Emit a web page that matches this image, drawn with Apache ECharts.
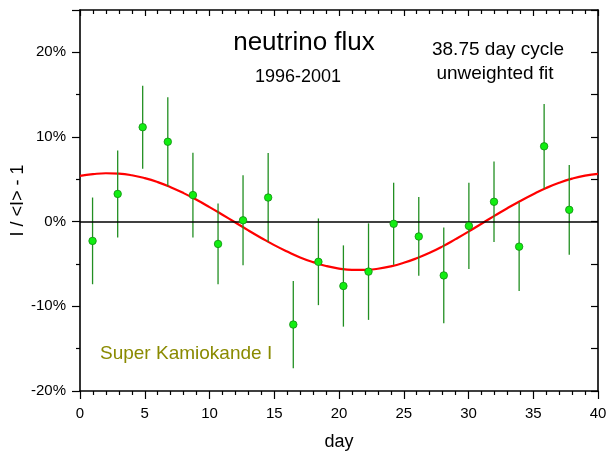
<!DOCTYPE html>
<html>
<head>
<meta charset="utf-8">
<script src="https://cdn.jsdelivr.net/npm/echarts@6/dist/echarts.min.js"></script>
<style>
html,body{margin:0;padding:0;background:#fff;}
#chart{width:612px;height:453px;}
</style>
</head>
<body>
<div id="chart"></div>
<script>
// Data (day of 38.75-day cycle, relative flux in %)
var days = [0.97, 2.91, 4.84, 6.78, 8.72, 10.66, 12.59, 14.53, 16.47, 18.41, 20.34, 22.28, 24.22, 26.16, 28.09, 30.03, 31.97, 33.91, 35.84, 37.78];
var values = [-2.27, 3.28, 11.16, 9.44, 3.14, -2.63, 0.16, 2.85, -12.15, -4.74, -7.6, -5.9, -0.25, -1.75, -6.35, -0.5, 2.35, -2.95, 8.9, 1.4];
var errors = [5.12, 5.14, 4.9, 5.26, 5.0, 4.77, 5.31, 5.25, 5.15, 5.12, 4.8, 5.7, 4.85, 4.65, 5.65, 5.1, 4.75, 5.25, 5.0, 5.3];
// Fitted curve at integer days
var fitDays = [0,1,2,3,4,5,6,7,8,9,10,11,12,13,14,15,16,17,18,19,20,21,22,23,24,25,26,27,28,29,30,31,32,33,34,35,36,37,38,39,40];
var fitValues = [5.4, 5.61, 5.72, 5.67, 5.48, 5.14, 4.67, 4.07, 3.37, 2.58, 1.72, 0.82, -0.1, -1.03, -1.92, -2.77, -3.53, -4.22, -4.78, -5.23, -5.54, -5.7, -5.7, -5.56, -5.28, -4.86, -4.32, -3.68, -2.92, -2.06, -1.17, -0.24, 0.68, 1.59, 2.45, 3.25, 3.98, 4.59, 5.08, 5.44, 5.65];
var xTicks = [0, 5, 10, 15, 20, 25, 30, 35, 40];
var yTicks = [-20, -10, 0, 10, 20];

var FONT = 'Liberation Sans, Arial, sans-serif';
var chart = echarts.init(document.getElementById('chart'), null, {renderer: 'canvas'});

var points = days.map(function (d, i) { return [d, values[i]]; });
var bars = days.map(function (d, i) { return [d, values[i] - errors[i], values[i] + errors[i]]; });
var fit = fitDays.map(function (d, i) { return [d, fitValues[i]]; });

function axisLine() { return {show: true, onZero: false, lineStyle: {color: '#000', width: 1.6}}; }
var option = {
  backgroundColor: '#fff',
  animation: false,
  grid: {left: 80, right: 14, top: 10, bottom: 62, containLabel: false, outerBoundsMode: 'none'},
  xAxis: [{
    type: 'value', min: 0, max: 40, interval: 5, position: 'bottom',
    axisLine: axisLine(),
    axisTick: {show: true, inside: false, length: 8, lineStyle: {color: '#000', width: 1.2}},
    minorTick: {show: true, splitNumber: 5, length: 4, lineStyle: {color: '#000', width: 1.2}},
    axisLabel: {color: '#000', fontSize: 15, fontFamily: FONT, margin: 15,
      formatter: function (v) { return xTicks.indexOf(v) >= 0 ? String(v) : ''; }},
    splitLine: {show: false},
    name: 'day', nameLocation: 'middle', nameGap: 42, nameMoveOverlap: false,
    nameTextStyle: {color: '#000', fontSize: 18, fontFamily: FONT}
  }, {
    type: 'value', min: 0, max: 40, interval: 5, position: 'top',
    axisLine: axisLine(),
    axisTick: {show: true, inside: true, length: 6, lineStyle: {color: '#000', width: 1.2}},
    minorTick: {show: true, splitNumber: 5, length: 4, lineStyle: {color: '#000', width: 1.2}},
    axisLabel: {show: false}, splitLine: {show: false}
  }],
  yAxis: [{
    type: 'value', min: -20, max: 25, interval: 10, position: 'left',
    axisLine: axisLine(),
    axisTick: {show: true, inside: false, length: 8, lineStyle: {color: '#000', width: 1.2}},
    minorTick: {show: true, splitNumber: 2, length: 4, lineStyle: {color: '#000', width: 1.2}},
    axisLabel: {color: '#000', fontSize: 15, fontFamily: FONT, margin: 14,
      formatter: function (v) { return yTicks.indexOf(v) >= 0 ? v + '%' : ''; }},
    splitLine: {show: false},
    name: 'I / <I> - 1', nameLocation: 'middle', nameGap: 53, nameRotate: 90, nameMoveOverlap: false,
    nameTextStyle: {color: '#000', fontSize: 18, fontFamily: FONT}
  }, {
    type: 'value', min: -20, max: 25, interval: 10, position: 'right',
    axisLine: axisLine(),
    axisTick: {show: true, inside: true, length: 7, lineStyle: {color: '#000', width: 1.2}},
    minorTick: {show: true, splitNumber: 2, length: 7, lineStyle: {color: '#000', width: 1.2}},
    axisLabel: {show: false}, splitLine: {show: false}
  }],
  series: [{
    type: 'line', data: fit, smooth: true, showSymbol: false, symbol: 'none',
    lineStyle: {color: '#ff0000', width: 2.2}, z: 3,
    markLine: {
      silent: true, symbol: ['none', 'none'], label: {show: false},
      lineStyle: {color: '#000', width: 1.5, type: 'solid'},
      data: [{yAxis: 0}]
    }
  }, {
    type: 'custom', data: bars, z: 4,
    renderItem: function (params, api) {
      var x = api.value(0);
      var p1 = api.coord([x, api.value(1)]);
      var p2 = api.coord([x, api.value(2)]);
      return {type: 'line', shape: {x1: p1[0], y1: p1[1], x2: p2[0], y2: p2[1]},
        style: {stroke: '#228f22', lineWidth: 1.3}};
    },
    encode: {x: 0, y: [1, 2]}
  }, {
    type: 'scatter', data: points, symbol: 'circle', symbolSize: 7.5, z: 5,
    itemStyle: {color: '#11ee11', borderColor: '#128a12', borderWidth: 0.8, opacity: 1}
  }],
  graphic: [
    {type: 'text', x: 304, y: 43, style: {text: 'neutrino flux', font: '26px ' + FONT, fill: '#000', textAlign: 'center', textVerticalAlign: 'middle'}},
    {type: 'text', x: 298, y: 77, style: {text: '1996-2001', font: '18px ' + FONT, fill: '#000', textAlign: 'center', textVerticalAlign: 'middle'}},
    {type: 'text', x: 498, y: 50, style: {text: '38.75 day cycle', font: '19px ' + FONT, fill: '#000', textAlign: 'center', textVerticalAlign: 'middle'}},
    {type: 'text', x: 495, y: 74, style: {text: 'unweighted fit', font: '19px ' + FONT, fill: '#000', textAlign: 'center', textVerticalAlign: 'middle'}},
    {type: 'text', x: 100, y: 354, style: {text: 'Super Kamiokande I', font: '19px ' + FONT, fill: '#8a8a00', textAlign: 'left', textVerticalAlign: 'middle'}}
  ]
};
chart.setOption(option);
</script>
</body>
</html>
